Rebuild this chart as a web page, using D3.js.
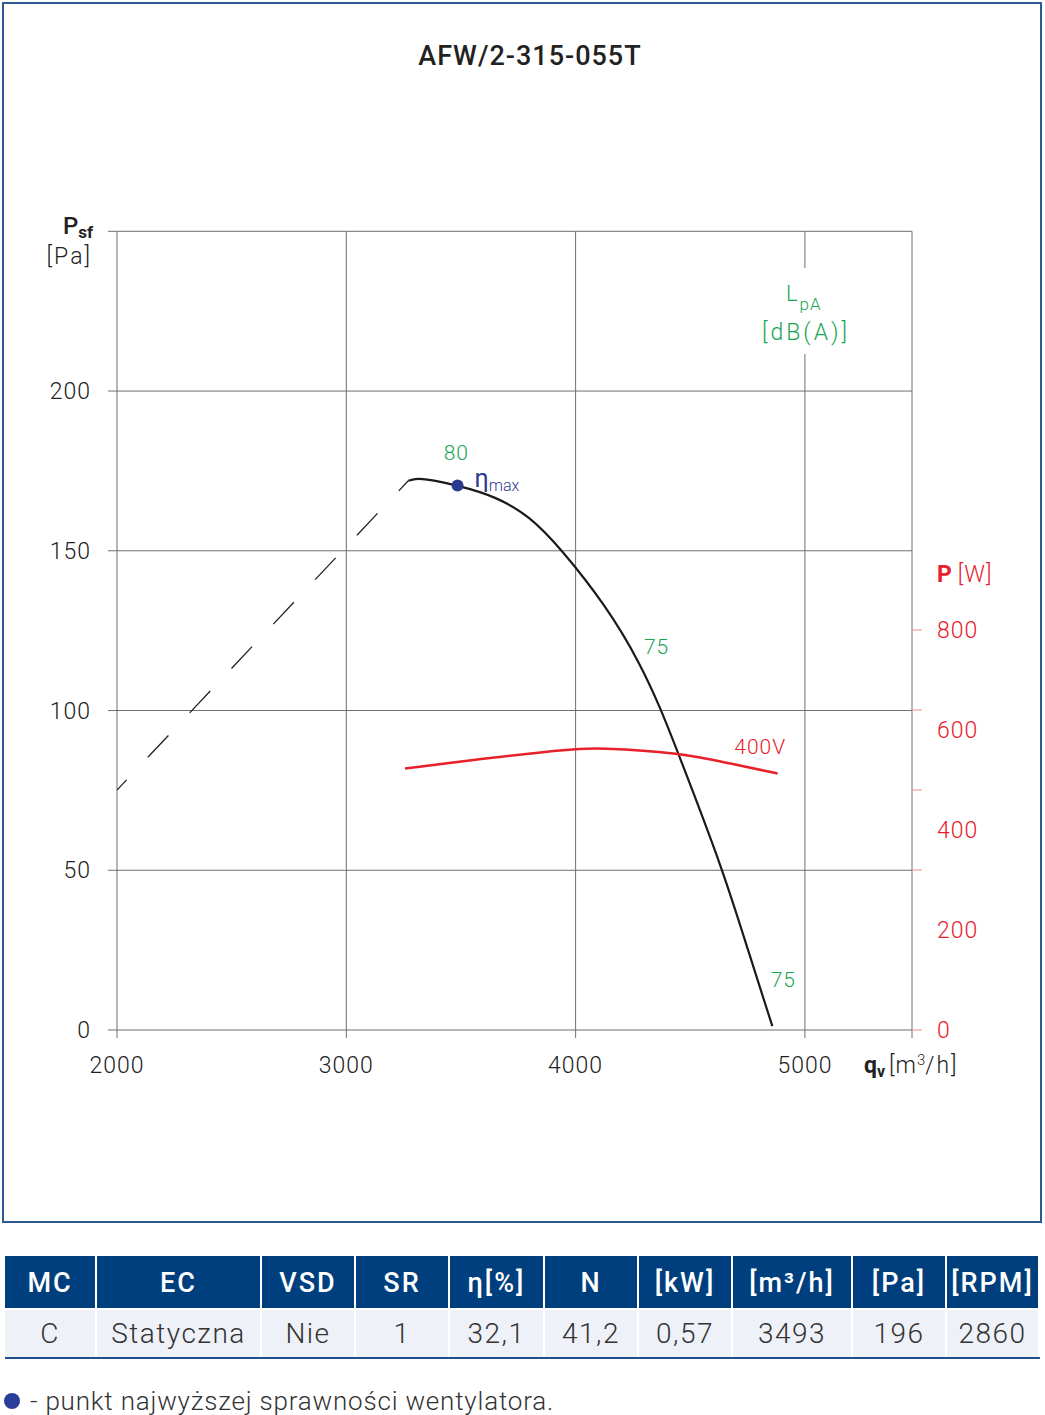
<!DOCTYPE html>
<html>
<head>
<meta charset="utf-8">
<script src="https://cdn.jsdelivr.net/npm/d3@7"></script>
<style>
  body { margin: 0; background: #fff; }
  svg { display: block; font-family: Roboto, "Noto Sans", sans-serif; }
</style>
</head>
<body>
<div id="chart"></div>
<script>
// fan curve data
const title = "AFW/2-315-055T";

// dashed (unstable) part of the pressure curve: [m3/h, Pa]
const pressureDashed = [[2000, 75.1], [3270, 171.9]];

// solid pressure curve: [m3/h, Pa]
const pressureSolid = [
  [3270, 171.9], [3300, 172.5], [3334, 172.6], [3482, 170.6], [3656, 166.9], [3801, 160.7],
  [3932, 151.0], [4137, 132.4], [4281, 114.8], [4371, 100.6], [4447, 86.7],
  [4644, 49.9], [4756, 24.0], [4858, 1.2]
];

// power curve at 400V: [m3/h, W]
const powerCurve = [
  [3256, 523], [3583, 542], [3997, 563], [4092, 564], [4448, 555], [4673, 533], [4881, 513]
];

// best efficiency point
const etaMax = [3485, 170.4];

// noise labels on the curve: [m3/h, Pa, text]
const noiseLabels = [[3480, 180.6, "80"], [4353, 120, "75"], [4906, 15.6, "75"]];
const voltageLabel = [4805, 88.5, "400V"];

const xTicks = [2000, 3000, 4000, 5000];
const xMax = 5467;
const yTicks = [0, 50, 100, 150, 200];
const yMax = 250;
const pTickLabels = [0, 200, 400, 600, 800];
const pTickMarks = [0, 320, 480, 640, 800];
const pMax = 800;

const tableHeaders = ["MC", "EC", "VSD", "SR", "η[%]", "N", "[kW]", "[m³/h]", "[Pa]", "[RPM]"];
const tableValues = ["C", "Statyczna", "Nie", "1", "32,1", "41,2", "0,57", "3493", "196", "2860"];
const colEdges = [5, 97, 262, 356, 450, 545, 639, 733, 853, 947, 1040];

const legendText = "- punkt najwyższej sprawności wentylatora.";

const W = 1045, H = 1415;
const grid = "#6f6f6f";
const green = "#1aa553";
const red = "#e8202a";
const navy = "#003f7d";

const svg = d3.select("#chart").append("svg")
  .attr("width", W).attr("height", H);

// frame round the chart
svg.append("rect")
  .attr("x", 3).attr("y", 3).attr("width", 1038).attr("height", 1219)
  .attr("fill", "none").attr("stroke", "#2c5a92").attr("stroke-width", 2);

svg.append("text")
  .attr("x", 530).attr("y", 65)
  .attr("text-anchor", "middle")
  .attr("font-size", 27).attr("font-weight", 500).attr("letter-spacing", 1).attr("fill", "#222")
  .text(title);

const x = d3.scaleLinear().domain([2000, xMax]).range([117, 912]);
const y = d3.scaleLinear().domain([0, yMax]).range([1030, 231.3]);
const yP = d3.scaleLinear().domain([0, pMax]).range([1030, 630]);

const plot = svg.append("g");

// horizontal grid + left ticks
plot.selectAll(".hgrid")
  .data(yTicks.concat([yMax]))
  .join("line")
  .attr("x1", 108).attr("x2", x(xMax))
  .attr("y1", d => y(d)).attr("y2", d => y(d))
  .attr("stroke", grid).attr("stroke-width", 1);

// vertical grid
plot.selectAll(".vgrid")
  .data(xTicks.concat([xMax]))
  .join("line")
  .attr("x1", d => x(d)).attr("x2", d => x(d))
  .attr("y1", y(yMax)).attr("y2", 1038)
  .attr("stroke", grid).attr("stroke-width", 1);

// right power ticks
plot.selectAll(".ptick")
  .data(pTickMarks)
  .join("line")
  .attr("x1", x(xMax)).attr("x2", x(xMax) + 10)
  .attr("y1", d => yP(d)).attr("y2", d => yP(d))
  .attr("stroke", "#f08a8f").attr("stroke-width", 1);

// axis tick labels
const tickFont = { size: 23, weight: 300, spacing: 1 };

plot.selectAll(".ylab")
  .data(yTicks)
  .join("text")
  .attr("x", 91).attr("y", d => y(d) + 8)
  .attr("text-anchor", "end")
  .attr("font-size", tickFont.size).attr("font-weight", tickFont.weight)
  .attr("letter-spacing", tickFont.spacing).attr("fill", "#222")
  .text(d => d);

plot.selectAll(".xlab")
  .data(xTicks)
  .join("text")
  .attr("x", d => x(d)).attr("y", 1073)
  .attr("text-anchor", "middle")
  .attr("font-size", tickFont.size).attr("font-weight", tickFont.weight)
  .attr("letter-spacing", tickFont.spacing).attr("fill", "#222")
  .text(d => d);

plot.selectAll(".plab")
  .data(pTickLabels)
  .join("text")
  .attr("x", 937).attr("y", d => yP(d) + 8)
  .attr("font-size", tickFont.size).attr("font-weight", tickFont.weight)
  .attr("letter-spacing", tickFont.spacing).attr("fill", red)
  .text(d => d);

// axis titles
const psf = svg.append("text").attr("x", 63).attr("y", 234).attr("fill", "#222");
psf.append("tspan").attr("font-size", 24).attr("font-weight", 500).text("P");
psf.append("tspan").attr("font-size", 17).attr("font-weight", 700).attr("dy", 4).text("sf");
svg.append("text").attr("x", 92).attr("y", 264).attr("text-anchor", "end")
  .attr("font-size", 23).attr("font-weight", 300).attr("letter-spacing", 2).attr("fill", "#222").text("[Pa]");

const qv = svg.append("text").attr("x", 864).attr("y", 1073).attr("fill", "#222");
qv.append("tspan").attr("font-size", 23).attr("font-weight", 700).text("q");
qv.append("tspan").attr("font-size", 16).attr("font-weight", 700).attr("dy", 4).text("v");
qv.append("tspan").attr("font-size", 23).attr("font-weight", 300).attr("dy", -4).attr("dx", 4)
  .attr("letter-spacing", 1).text("[m");
qv.append("tspan").attr("font-size", 15).attr("font-weight", 300).attr("dy", -8).text("3");
qv.append("tspan").attr("font-size", 23).attr("font-weight", 300).attr("dy", 8)
  .attr("letter-spacing", 2).text("/h]");

const pw = svg.append("text").attr("x", 937).attr("y", 582).attr("fill", red);
pw.append("tspan").attr("font-size", 23).attr("font-weight", 700).text("P");
pw.append("tspan").attr("font-size", 23).attr("font-weight", 300).attr("dx", 6)
  .attr("letter-spacing", 1).text("[W]");

// LpA label sits on a white patch over the 5000 grid line
svg.append("rect").attr("x", 755).attr("y", 268).attr("width", 100).attr("height", 86).attr("fill", "#fff");
const lpa = svg.append("text").attr("x", 786).attr("y", 301).attr("fill", green);
lpa.append("tspan").attr("font-size", 22).attr("font-weight", 300).text("L");
lpa.append("tspan").attr("font-size", 17).attr("font-weight", 300).attr("dy", 9).attr("dx", 2)
  .attr("letter-spacing", 1).text("pA");
svg.append("text").attr("x", 806).attr("y", 340).attr("text-anchor", "middle")
  .attr("font-size", 23).attr("font-weight", 300).attr("letter-spacing", 3).attr("fill", green)
  .text("[dB(A)]");

// curves
const line = d3.line().x(d => x(d[0])).y(d => y(d[1]));
const solidLine = d3.line().x(d => x(d[0])).y(d => y(d[1])).curve(d3.curveBasis);
const powerLine = d3.line().x(d => x(d[0])).y(d => yP(d[1])).curve(d3.curveBasis);

plot.append("path")
  .attr("d", line(pressureDashed))
  .attr("fill", "none").attr("stroke", "#222").attr("stroke-width", 1.3)
  .attr("stroke-dasharray", "30 31").attr("stroke-dashoffset", 16);

plot.append("path")
  .attr("d", solidLine(pressureSolid))
  .attr("fill", "none").attr("stroke", "#1a1a1a").attr("stroke-width", 2.2);

plot.append("path")
  .attr("d", powerLine(powerCurve))
  .attr("fill", "none").attr("stroke", red).attr("stroke-width", 2.5);

plot.append("circle")
  .attr("cx", x(etaMax[0])).attr("cy", y(etaMax[1])).attr("r", 6)
  .attr("fill", "#2b3990");

const eta = svg.append("text").attr("x", x(etaMax[0]) + 17).attr("y", y(etaMax[1]) + 1).attr("fill", "#2b3990");
eta.append("tspan").attr("font-size", 25).attr("font-weight", 400).text("η");
eta.append("tspan").attr("font-size", 16).attr("font-weight", 300).attr("dy", 4).text("max");

plot.selectAll(".noise")
  .data(noiseLabels)
  .join("text")
  .attr("x", d => x(d[0])).attr("y", d => y(d[1]) + 7)
  .attr("text-anchor", "middle")
  .attr("font-size", 21).attr("font-weight", 300).attr("letter-spacing", 1).attr("fill", green)
  .text(d => d[2]);

plot.append("text")
  .attr("x", x(voltageLabel[0])).attr("y", y(voltageLabel[1]) + 7)
  .attr("text-anchor", "middle")
  .attr("font-size", 21).attr("font-weight", 300).attr("letter-spacing", 1).attr("fill", red)
  .text(voltageLabel[2]);

// parameter table
const table = svg.append("g");
const cols = d3.range(tableHeaders.length);

table.selectAll(".hcell")
  .data(cols)
  .join("rect")
  .attr("x", i => colEdges[i]).attr("y", 1256)
  .attr("width", i => colEdges[i + 1] - colEdges[i] - 2).attr("height", 52)
  .attr("fill", navy);

table.selectAll(".vcell")
  .data(cols)
  .join("rect")
  .attr("x", i => colEdges[i]).attr("y", 1310)
  .attr("width", i => colEdges[i + 1] - colEdges[i] - 2).attr("height", 47)
  .attr("fill", "#eef1f7");

table.append("line")
  .attr("x1", 5).attr("x2", 1040).attr("y1", 1358).attr("y2", 1358)
  .attr("stroke", "#1d4f8c").attr("stroke-width", 2);

table.selectAll(".htext")
  .data(cols)
  .join("text")
  .attr("x", i => (colEdges[i] + colEdges[i + 1]) / 2 - 1).attr("y", 1292)
  .attr("text-anchor", "middle")
  .attr("font-size", 27).attr("font-weight", 500).attr("letter-spacing", 2).attr("fill", "#fff")
  .text(i => tableHeaders[i]);

table.selectAll(".vtext")
  .data(cols)
  .join("text")
  .attr("x", i => (colEdges[i] + colEdges[i + 1]) / 2 - 1).attr("y", 1343)
  .attr("text-anchor", "middle")
  .attr("font-size", 28).attr("font-weight", 300).attr("letter-spacing", 1.5).attr("fill", "#333")
  .text(i => tableValues[i]);

// legend for the efficiency dot
svg.append("circle").attr("cx", 12).attr("cy", 1401).attr("r", 8).attr("fill", "#2b3d9a");
svg.append("text").attr("x", 30).attr("y", 1410)
  .attr("font-size", 26).attr("font-weight", 300).attr("letter-spacing", 0.8).attr("fill", "#333")
  .text(legendText);
</script>
</body>
</html>
